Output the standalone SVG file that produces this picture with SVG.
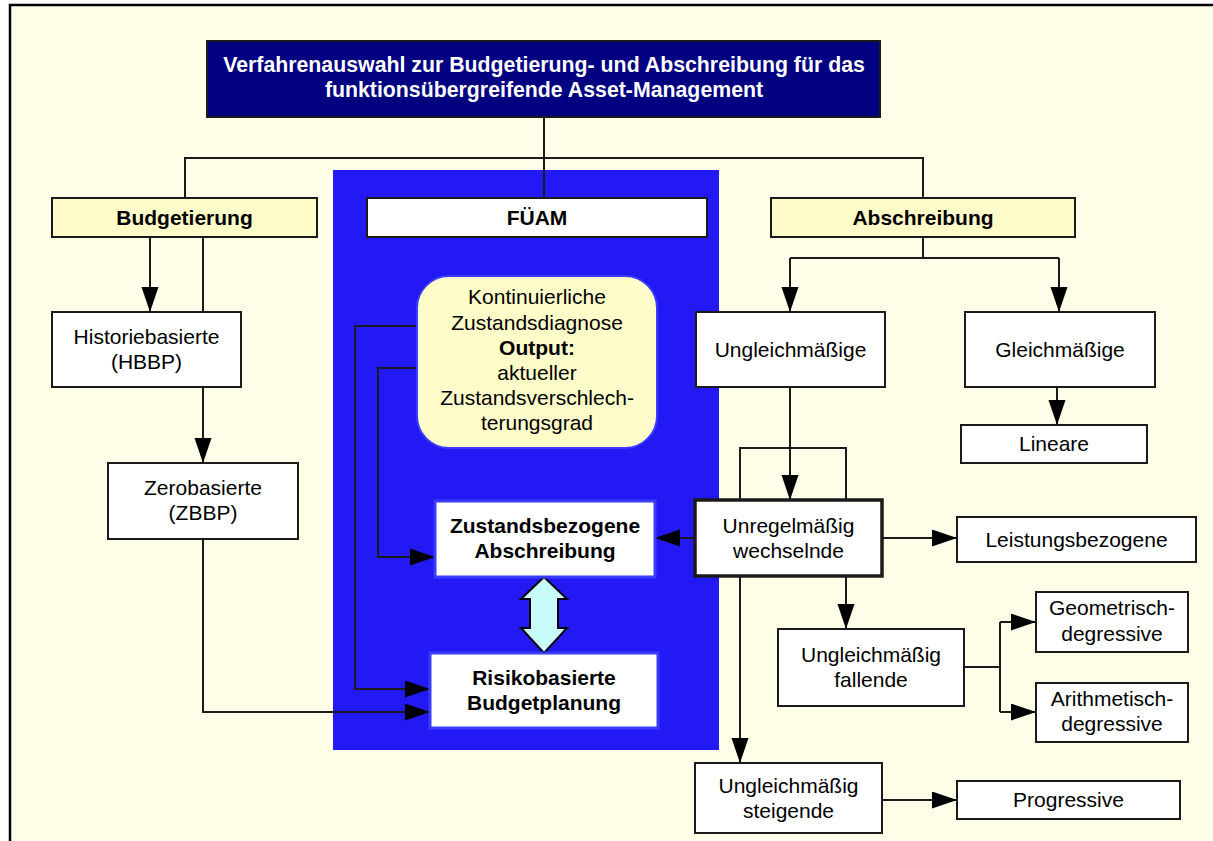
<svg xmlns="http://www.w3.org/2000/svg" width="1213" height="841" viewBox="0 0 1213 841">
  <style>
    text { font-family: "Liberation Sans", Arial, sans-serif; font-size: 21px; fill: #000; text-anchor: middle; }
    .b { font-weight: bold; }
    .title { fill: #fff; font-weight: bold; font-size: 21.3px; }
    .box { fill: #fff; stroke: #1a1a1a; stroke-width: 2; }
    .hdr { fill: #fdfbc8; stroke: #1a1a1a; stroke-width: 2; }
    .inner { fill: #fff; stroke: #3a3cff; stroke-width: 3; }
    .line { fill: none; stroke: #1a1a1a; stroke-width: 2; }
    .arr { fill: none; stroke: #1a1a1a; stroke-width: 2; marker-end: url(#head); }
  </style>
  <defs>
    <marker id="head" markerUnits="userSpaceOnUse" markerWidth="26" markerHeight="18" refX="25" refY="8.5" orient="auto">
      <path d="M0,0 L25,8.5 L0,17 z" fill="#000"/>
    </marker>
  </defs>

  <!-- page frame -->
  <rect x="0" y="0" width="1213" height="841" fill="#fff"/>
  <rect x="10" y="5" width="1230" height="860" fill="#fefde8" stroke="#000" stroke-width="2.5"/>

  <!-- FÜAM panel -->
  <rect id="panel" x="333" y="170" width="386" height="580" fill="#2219f5"/>

  <!-- connectors -->
  <g id="connectors">
    <path class="line" d="M544,117 V198 M185,198 V158 H923 V198"/>
    <path class="arr" d="M150,237 V312"/>
    <path class="line" d="M203,237 V312"/>
    <path class="arr" d="M203,387 V463"/>
    <path class="arr" d="M203,539 V712 H430"/>
    <path class="arr" d="M417,326 H355 V689 H430"/>
    <path class="arr" d="M417,368 H378 V557 H435"/>
    <path class="line" d="M923,237 V258 M790,258 H1059"/>
    <path class="arr" d="M790,258 V312"/>
    <path class="arr" d="M1059,258 V312"/>
    <path class="arr" d="M1057,387 V425"/>
    <path class="arr" d="M790,387 V500"/>
    <path class="line" d="M740,500 V448 H846 V500"/>
    <path class="arr" d="M695,538 H655"/>
    <path class="arr" d="M882,538 H957"/>
    <path class="arr" d="M846,576 V629"/>
    <path class="arr" d="M740,576 V763"/>
    <path class="line" d="M964,667 H1000 M1000,622 V712"/>
    <path class="arr" d="M1000,622 H1036"/>
    <path class="arr" d="M1000,712 H1036"/>
    <path class="arr" d="M882,800 H957"/>
    <polygon points="544,577 567,599 558,599 558,628 567,628 544,653 521,628 530,628 530,599 521,599" fill="#c8fcfc" stroke="#000" stroke-width="2"/>
  </g>

  <g id="title">
    <rect x="207" y="41" width="673" height="76" fill="#000080" stroke="#1a1a1a" stroke-width="2"/>
    <text class="title" x="544" y="72">Verfahrenauswahl zur Budgetierung- und Abschreibung für das</text>
    <text class="title" x="544" y="97">funktionsübergreifende Asset-Management</text>
  </g>

  <g id="budgetierung">
    <rect class="hdr" x="52" y="198" width="265" height="39"/>
    <text class="b" x="184.5" y="225">Budgetierung</text>
  </g>

  <g id="fueam">
    <rect class="box" x="367" y="198" width="340" height="39"/>
    <text class="b" x="537" y="225">FÜAM</text>
  </g>

  <g id="abschreibung">
    <rect class="hdr" x="771" y="198" width="304" height="39"/>
    <text class="b" x="923" y="225">Abschreibung</text>
  </g>

  <g id="historiebasierte">
    <rect class="box" x="52" y="312" width="189" height="75"/>
    <text x="146.5" y="344">Historiebasierte</text>
    <text x="146.5" y="369">(HBBP)</text>
  </g>

  <g id="zerobasierte">
    <rect class="box" x="108" y="463" width="190" height="76"/>
    <text x="203" y="495">Zerobasierte</text>
    <text x="203" y="520">(ZBBP)</text>
  </g>

  <g id="zustandsdiagnose">
    <rect x="417" y="276" width="240" height="172" rx="32" ry="32" fill="#fefcc8" stroke="#3a3cff" stroke-width="2"/>
    <text x="537" y="304">Kontinuierliche</text>
    <text x="537" y="330">Zustandsdiagnose</text>
    <text class="b" x="537" y="355">Output:</text>
    <text x="537" y="380">aktueller</text>
    <text x="537" y="405">Zustandsverschlech-</text>
    <text x="537" y="430">terungsgrad</text>
  </g>

  <g id="zustandsbezogene">
    <rect class="inner" x="435" y="501" width="220" height="76"/>
    <text class="b" x="545" y="533">Zustandsbezogene</text>
    <text class="b" x="545" y="558">Abschreibung</text>
  </g>

  <g id="risikobasierte">
    <rect class="inner" x="430" y="653" width="228" height="75"/>
    <text class="b" x="544" y="685">Risikobasierte</text>
    <text class="b" x="544" y="710">Budgetplanung</text>
  </g>

  <g id="ungleichmaessige">
    <rect class="box" x="696" y="312" width="189" height="75"/>
    <text x="790.5" y="357">Ungleichmäßige</text>
  </g>

  <g id="gleichmaessige">
    <rect class="box" x="965" y="312" width="190" height="75"/>
    <text x="1060" y="357">Gleichmäßige</text>
  </g>

  <g id="lineare">
    <rect class="box" x="961" y="425" width="186" height="38"/>
    <text x="1054" y="451">Lineare</text>
  </g>

  <g id="unregelmaessig">
    <rect x="695" y="500" width="187" height="76" fill="#fff" stroke="#1a1a1a" stroke-width="3.5"/>
    <text x="788.5" y="533">Unregelmäßig</text>
    <text x="788.5" y="558">wechselnde</text>
  </g>

  <g id="leistungsbezogene">
    <rect class="box" x="957" y="517" width="239" height="45"/>
    <text x="1076.5" y="547">Leistungsbezogene</text>
  </g>

  <g id="fallende">
    <rect class="box" x="778" y="629" width="186" height="77"/>
    <text x="871" y="662">Ungleichmäßig</text>
    <text x="871" y="687">fallende</text>
  </g>

  <g id="geometrisch">
    <rect class="box" x="1036" y="592" width="152" height="60"/>
    <text x="1112" y="615">Geometrisch-</text>
    <text x="1112" y="641">degressive</text>
  </g>

  <g id="arithmetisch">
    <rect class="box" x="1036" y="683" width="152" height="59"/>
    <text x="1112" y="706">Arithmetisch-</text>
    <text x="1112" y="731">degressive</text>
  </g>

  <g id="steigende">
    <rect class="box" x="695" y="763" width="187" height="70"/>
    <text x="788.5" y="793">Ungleichmäßig</text>
    <text x="788.5" y="818">steigende</text>
  </g>

  <g id="progressive">
    <rect class="box" x="957" y="781" width="223" height="38"/>
    <text x="1068.5" y="807">Progressive</text>
  </g>
</svg>
